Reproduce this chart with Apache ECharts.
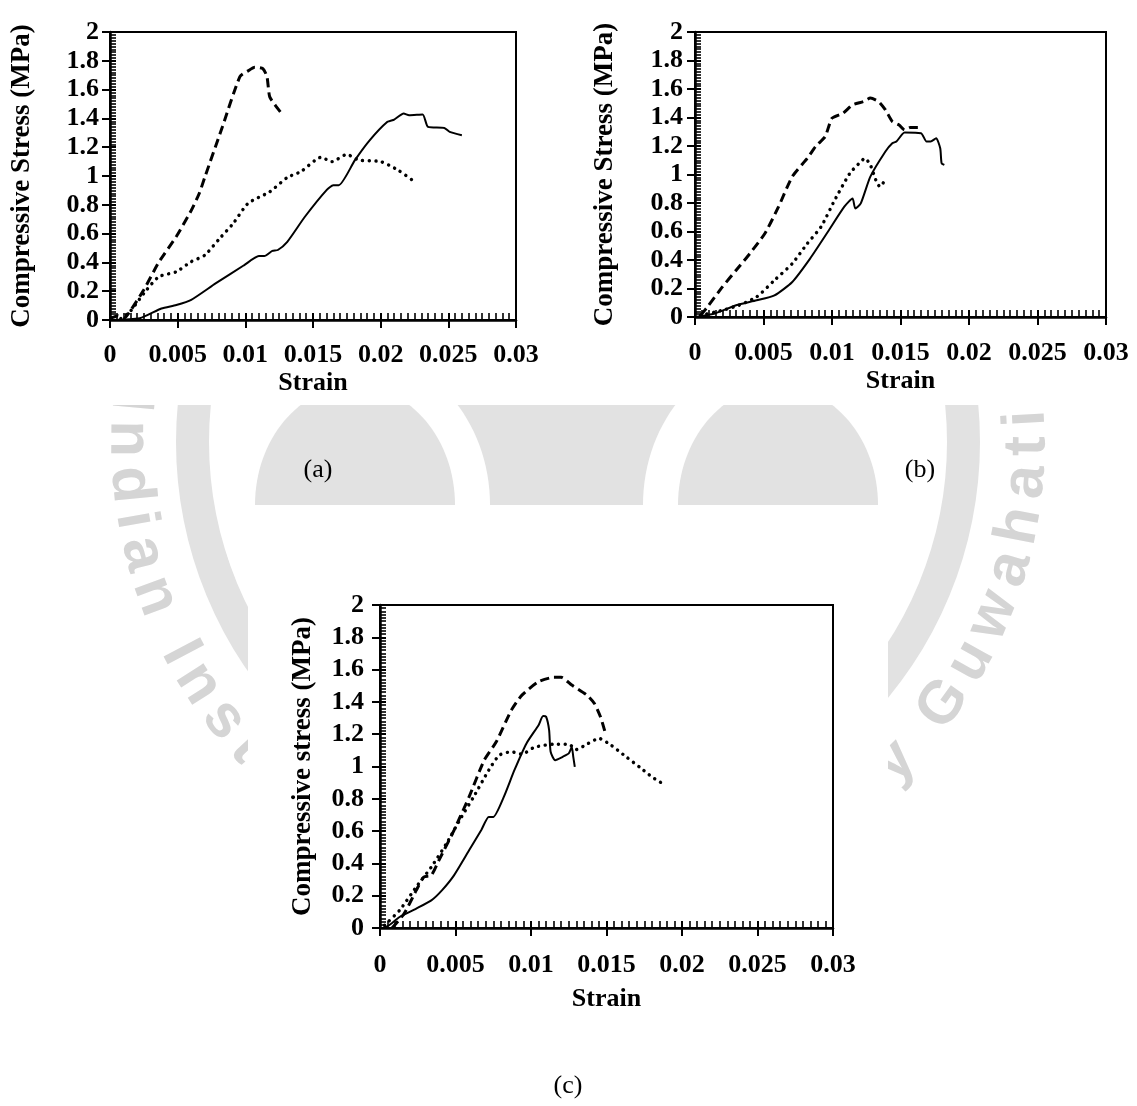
<!DOCTYPE html>
<html>
<head>
<meta charset="utf-8">
<script src="https://cdn.jsdelivr.net/npm/echarts@6/dist/echarts.min.js"></script>
<style>
  html, body { margin: 0; padding: 0; background: #fff; }
  #chart { width: 1137px; height: 1106px; }
</style>
</head>
<body>
<div id="chart"></div>
<script>
// strain / stress pairs
const aDashed = [[0, 0.01], [0.0006, 0.03], [0.001, 0.01], [0.0014, 0.05], [0.0025, 0.21], [0.0036, 0.40], [0.0049, 0.58], [0.006, 0.76], [0.0066, 0.88], [0.007, 0.99], [0.0083, 1.34], [0.0096, 1.69], [0.0102, 1.73], [0.0107, 1.755], [0.0113, 1.745], [0.0116, 1.69], [0.0118, 1.55], [0.0123, 1.48], [0.0128, 1.42]];
const aDotted = [[0.0008, 0.01], [0.0015, 0.06], [0.0025, 0.185], [0.0036, 0.30], [0.0049, 0.335], [0.006, 0.405], [0.007, 0.45], [0.0081, 0.566], [0.0091, 0.67], [0.0102, 0.81], [0.0118, 0.89], [0.0131, 0.99], [0.0141, 1.03], [0.0156, 1.13], [0.0164, 1.10], [0.0175, 1.15], [0.0184, 1.11], [0.02, 1.10], [0.0213, 1.04], [0.0225, 0.96]];
const aSolid = [[0, 0], [0.0022, 0.012], [0.0038, 0.08], [0.0049, 0.104], [0.006, 0.14], [0.0078, 0.254], [0.0099, 0.38], [0.011, 0.444], [0.0114, 0.444], [0.012, 0.48], [0.0124, 0.486], [0.0131, 0.543], [0.0144, 0.717], [0.016, 0.902], [0.0165, 0.936], [0.0169, 0.936], [0.0181, 1.11], [0.0192, 1.249], [0.0205, 1.376], [0.021, 1.392], [0.0217, 1.434], [0.0221, 1.422], [0.0231, 1.427], [0.0235, 1.341], [0.0247, 1.334], [0.0251, 1.306], [0.026, 1.283]];

const bDashed = [[0.0004, 0.01], [0.0009, 0.07], [0.002, 0.211], [0.003, 0.328], [0.004, 0.445], [0.0051, 0.586], [0.0061, 0.774], [0.0071, 0.985], [0.0082, 1.114], [0.0088, 1.196], [0.0095, 1.266], [0.01, 1.395], [0.0108, 1.43], [0.0115, 1.489], [0.0123, 1.512], [0.0128, 1.536], [0.0134, 1.512], [0.0139, 1.454], [0.0144, 1.372], [0.0149, 1.348], [0.0153, 1.313], [0.0157, 1.329], [0.0165, 1.329]];
const bDotted = [[0.0004, 0.012], [0.002, 0.047], [0.0032, 0.082], [0.0045, 0.141], [0.0058, 0.258], [0.0071, 0.375], [0.0082, 0.516], [0.0092, 0.633], [0.0102, 0.821], [0.0113, 1.008], [0.0121, 1.09], [0.0124, 1.114], [0.0128, 1.067], [0.0132, 0.961], [0.0135, 0.914], [0.0138, 0.95]];
const bSolid = [[0, 0], [0.0014, 0.023], [0.003, 0.082], [0.0045, 0.117], [0.0058, 0.152], [0.0071, 0.246], [0.0084, 0.41], [0.0097, 0.598], [0.0109, 0.774], [0.0115, 0.832], [0.0117, 0.762], [0.0121, 0.797], [0.0128, 0.985], [0.0139, 1.161], [0.0144, 1.219], [0.0147, 1.231], [0.0153, 1.294], [0.0165, 1.29], [0.0169, 1.231], [0.0172, 1.231], [0.0176, 1.254], [0.0179, 1.184], [0.018, 1.079], [0.0182, 1.067]];

const cDashed = [[0.0008, 0], [0.0016, 0.089], [0.0024, 0.233], [0.0029, 0.316], [0.0034, 0.326], [0.0039, 0.419], [0.0049, 0.605], [0.0059, 0.812], [0.0069, 1.039], [0.0077, 1.153], [0.0087, 1.349], [0.0094, 1.442], [0.0105, 1.525], [0.0115, 1.552], [0.012, 1.552], [0.0127, 1.504], [0.0137, 1.442], [0.0142, 1.39], [0.0146, 1.308], [0.0149, 1.215]];
const cDotted = [[0.0003, 0.017], [0.0013, 0.11], [0.0024, 0.254], [0.0034, 0.378], [0.0044, 0.523], [0.0054, 0.688], [0.0062, 0.812], [0.0072, 0.977], [0.0079, 1.07], [0.0087, 1.091], [0.0094, 1.076], [0.0102, 1.118], [0.0115, 1.138], [0.0125, 1.138], [0.013, 1.105], [0.0137, 1.138], [0.0145, 1.174], [0.0153, 1.132], [0.0163, 1.06], [0.0173, 0.988], [0.018, 0.936], [0.0187, 0.895]];
const cSolid = [[0.0002, 0], [0.0006, 0.017], [0.0013, 0.068], [0.0024, 0.12], [0.0034, 0.171], [0.0041, 0.233], [0.0049, 0.326], [0.0059, 0.481], [0.0067, 0.605], [0.0072, 0.688], [0.0075, 0.688], [0.0082, 0.812], [0.0089, 0.977], [0.0097, 1.143], [0.0105, 1.256], [0.0108, 1.312], [0.011, 1.308], [0.0112, 1.225], [0.0113, 1.091], [0.0116, 1.039], [0.0121, 1.06], [0.0125, 1.081], [0.0127, 1.12], [0.0128, 1.06], [0.0129, 0.998]];

const strainMax = 0.03;
const strainStep = 0.005;
const stressMax = 2;
const stressStep = 0.2;

const captions = ['(a)', '(b)', '(c)'];
const watermarkText = 'Indian Institute of Technology Guwahati';

const FONT = "'Liberation Serif', 'Times New Roman', serif";
const MARK_FONT = "bold 60px 'Liberation Sans', Arial, sans-serif";
const MARK_GREY = '#e2e2e2';
const MARK_TEXT = '#d5d5d5';

const panels = [
    { grid: { left: 110, top: 32, width: 406, height: 288 }, yName: 'Compressive Stress (MPa)', lines: [aDashed, aDotted, aSolid], labelGap: 22, nameGap: 50, yLabelGap: 11, yNameGap: 74, caption: [318, 470] },
    { grid: { left: 695, top: 32, width: 411, height: 285 }, yName: 'Compressive Stress (MPa)', lines: [bDashed, bDotted, bSolid], labelGap: 23, nameGap: 51, yLabelGap: 12, yNameGap: 76, caption: [920, 470] },
    { grid: { left: 380, top: 605, width: 453, height: 323 }, yName: 'Compressive stress (MPa)', lines: [cDashed, cDotted, cSolid], labelGap: 24, nameGap: 58, yLabelGap: 16, yNameGap: 63, caption: [568, 1086] }
];

const lineStyles = [
    { color: '#000', width: 3, type: [9, 5] },
    { color: '#000', width: 3.4, type: [0.1, 6.6], cap: 'round' },
    { color: '#000', width: 2 }
];

const fmt = v => String(parseFloat(v.toFixed(4)));
const black = { color: '#000', width: 2 };

const grids = [], xAxes = [], yAxes = [], series = [];

panels.forEach((p, i) => {
    grids.push(Object.assign({ show: true, borderColor: '#000', borderWidth: 2 }, p.grid));

    // labelled axes with outward major ticks
    xAxes.push({
        gridIndex: i, type: 'value', min: 0, max: strainMax, interval: strainStep, position: 'bottom',
        axisLine: { onZero: false, lineStyle: { color: '#000', width: 2.5 } },
        axisTick: { length: 8, lineStyle: black },
        axisLabel: { margin: p.labelGap, formatter: fmt, color: '#000', fontSize: 26, fontWeight: 'bold', fontFamily: FONT },
        splitLine: { show: false },
        name: 'Strain', nameLocation: 'middle', nameGap: p.nameGap,
        nameTextStyle: { color: '#000', fontSize: 26, fontWeight: 'bold', fontFamily: FONT }
    });
    yAxes.push({
        gridIndex: i, type: 'value', min: 0, max: stressMax, interval: stressStep, position: 'left',
        axisLine: { onZero: false, lineStyle: { color: '#000', width: 2.5 } },
        axisTick: { length: 8, lineStyle: black },
        axisLabel: { margin: p.yLabelGap, formatter: fmt, color: '#000', fontSize: 26, fontWeight: 'bold', fontFamily: FONT },
        splitLine: { show: false },
        name: p.yName, nameLocation: 'middle', nameGap: p.yNameGap, nameRotate: 90,
        nameTextStyle: { color: '#000', fontSize: 27, fontWeight: 'bold', fontFamily: FONT }
    });

    // overlay axes carrying the inner ticks and the minor ticks
    xAxes.push({
        gridIndex: i, type: 'value', min: 0, max: strainMax, interval: strainStep, position: 'bottom',
        axisLine: { show: false, onZero: false },
        axisTick: { inside: true, length: 7, lineStyle: black },
        minorTick: { show: true, splitNumber: 10, length: 7, lineStyle: { color: '#000', width: 1.6 } },
        axisLabel: { show: false }, splitLine: { show: false }
    });
    yAxes.push({
        gridIndex: i, type: 'value', min: 0, max: stressMax, interval: stressStep, position: 'left',
        axisLine: { show: false, onZero: false },
        axisTick: { inside: true, length: 6, lineStyle: black },
        minorTick: { show: true, splitNumber: 10, length: 6, lineStyle: { color: '#000', width: 1.6 } },
        axisLabel: { show: false }, splitLine: { show: false }
    });

    p.lines.forEach((data, k) => {
        series.push({
            type: 'line', xAxisIndex: i * 2, yAxisIndex: i * 2, data: data,
            showSymbol: false, symbol: 'none', smooth: 0.2,
            lineStyle: lineStyles[k], silent: true
        });
    });
});

// faint institute logo behind the page, partly covered by the white figure boxes
const graphics = [];
const cx = 578, cy = 442;
graphics.push({ type: 'ring', z: -30, shape: { cx: cx, cy: cy, r: 402, r0: 369 }, style: { fill: MARK_GREY } });
graphics.push({ type: 'rect', z: -30, z2: 1, shape: { x: 255, y: 405, width: 625, height: 100 }, style: { fill: MARK_GREY } });
[355, 778].forEach(dx => {
    graphics.push({ type: 'ellipse', z: -30, z2: 2, shape: { cx: dx, cy: 505, rx: 135, ry: 154 }, style: { fill: '#fff' } });
    graphics.push({ type: 'ellipse', z: -30, z2: 3, shape: { cx: dx, cy: 505, rx: 100, ry: 119 }, style: { fill: MARK_GREY } });
});

const ctx = document.createElement('canvas').getContext('2d');
ctx.font = MARK_FONT;
const widths = watermarkText.split('').map(ch => ctx.measureText(ch).width);
const R = 450, startDeg = 185, endDeg = -3;
const firstC = widths[0] / 2;
let acc = 0;
const rawCentres = widths.map(w => { const c = acc + w / 2; acc += w; return c; });
const span = R * (startDeg - endDeg) * Math.PI / 180;
const gap = (span - (rawCentres[rawCentres.length - 1] - firstC)) / (widths.length - 1);
watermarkText.split('').forEach((ch, i) => {
    if (ch === ' ') return;
    const s = rawCentres[i] - firstC + gap * i;
    const phi = (startDeg * Math.PI / 180) - s / R;
    graphics.push({
        type: 'text', z: -30, z2: 4,
        x: cx + R * Math.cos(phi), y: cy + R * Math.sin(phi),
        rotation: Math.PI / 2 - phi,
        style: { text: ch, font: MARK_FONT, fill: MARK_TEXT, align: 'center', verticalAlign: 'middle' }
    });
});

// white backgrounds of the pasted figures
graphics.push({ type: 'rect', z: -20, shape: { x: 0, y: 0, width: 1137, height: 405 }, style: { fill: '#fff' } });
graphics.push({ type: 'rect', z: -20, shape: { x: 248, y: 505, width: 640, height: 601 }, style: { fill: '#fff' } });

panels.forEach((p, i) => {
    graphics.push({
        type: 'text', x: p.caption[0], y: p.caption[1],
        style: { text: captions[i], fill: '#000', font: '26px ' + FONT, align: 'center', verticalAlign: 'middle' }
    });
});

const chart = echarts.init(document.getElementById('chart'));
chart.setOption({
    animation: false,
    backgroundColor: '#fff',
    grid: grids,
    xAxis: xAxes,
    yAxis: yAxes,
    series: series,
    graphic: graphics
});
</script>
</body>
</html>
